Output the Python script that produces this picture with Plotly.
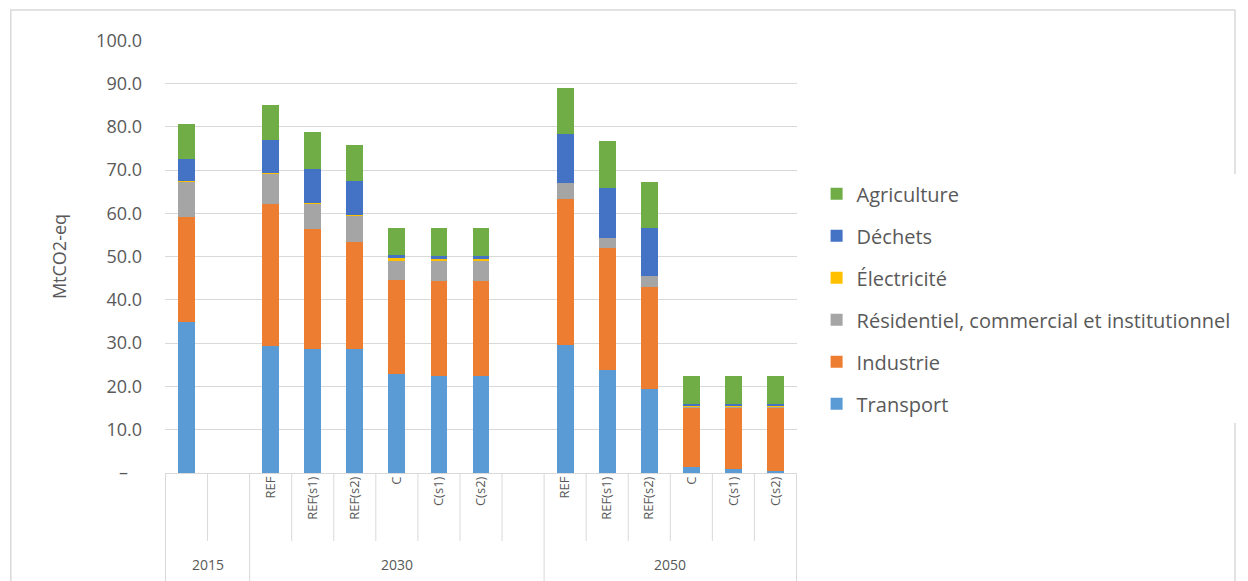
import plotly.graph_objects as go

# x-axis: year groups, and scenario labels per slot ("" = unlabelled / empty slot)
years = ["2015", "2030", "2050"]
group_sizes = [2, 7, 6]
scenarios = ["", "",
             "REF", "REF(s1)", "REF(s2)", "C", "C(s1)", "C(s2)", "",
             "REF", "REF(s1)", "REF(s2)", "C", "C(s1)", "C(s2)"]

# MtCO2-eq by sector
transport = [35.0, None, 29.3, 28.6, 28.7, 22.9, 22.4, 22.4, None, 29.6, 23.9, 19.3, 1.5, 0.9, 0.5]
industrie = [24.2, None, 32.8, 27.7, 24.7, 21.7, 22.0, 22.0, None, 33.6, 28.2, 23.7, 13.6, 14.2, 14.6]
residentiel = [8.1, None, 7.1, 6.0, 6.0, 4.6, 4.6, 4.6, None, 3.7, 2.2, 2.5, 0.2, 0.2, 0.2]
electricite = [0.2, None, 0.1, 0.2, 0.3, 0.4, 0.4, 0.4, None, 0.0, 0.0, 0.0, 0.1, 0.1, 0.1]
dechets = [5.1, None, 7.7, 7.7, 7.7, 0.8, 0.8, 0.8, None, 11.5, 11.5, 11.2, 0.6, 0.6, 0.6]
agriculture = [8.1, None, 8.1, 8.6, 8.4, 6.2, 6.3, 6.3, None, 10.6, 10.9, 10.6, 6.5, 6.5, 6.5]

y_ticks = [0, 10, 20, 30, 40, 50, 60, 70, 80, 90, 100]

series = [
    ("Transport", transport, "#5B9BD5"),
    ("Industrie", industrie, "#ED7D31"),
    ("Résidentiel, commercial et institutionnel", residentiel, "#A5A5A5"),
    ("Électricité", electricite, "#FFC000"),
    ("Déchets", dechets, "#4472C4"),
    ("Agriculture", agriculture, "#70AD47"),
]

FONT = "Open Sans"
GREY = "#595959"
LINE = "#d9d9d9"

# unique category keys for each slot
keys = []
for yr, n in zip(years, group_sizes):
    for i in range(n):
        keys.append(f"{yr}_{i}")

fig = go.Figure()
for i, (name, vals, col) in enumerate(series):
    fig.add_trace(go.Bar(
        x=keys, y=vals, name=name, marker_color=col, marker_line_width=0,
        legendgroup=str(i), legendrank=len(series) - i,
    ))

# category cell dividers and year labels
shapes = []
annotations = []
start = 0
for yr, n in zip(years, group_sizes):
    for j in range(n):
        pos = start + j - 0.5
        full = j == 0
        shapes.append(dict(type="line", xref="x", yref="paper", x0=pos, x1=pos,
                           y0=0, y1=-0.26 if full else -0.157,
                           line=dict(color=LINE, width=1)))
    annotations.append(dict(xref="x", yref="paper", x=start + (n - 1) / 2, y=-0.212,
                            text=yr, showarrow=False, yanchor="middle",
                            font=dict(family=FONT, size=14, color=GREY)))
    start += n
shapes.append(dict(type="line", xref="x", yref="paper", x0=start - 0.5, x1=start - 0.5,
                   y0=0, y1=-0.26, line=dict(color=LINE, width=1)))
# outer chart border
shapes.append(dict(type="rect", xref="paper", yref="paper", x0=-0.244, x1=1.693,
                   y0=-0.3, y1=1.069, line=dict(color="#d9d9d9", width=1.5), layer="below"))

# the page body adds 8px around the figure
fig.update_layout(
    barmode="stack",
    bargap=0.6,
    width=1240, height=573,
    margin=dict(l=157, r=440, t=32, b=108),
    paper_bgcolor="white", plot_bgcolor="white",
    font=dict(family=FONT, color=GREY),
    shapes=shapes,
    annotations=annotations,
    legend=dict(x=1.031, y=0.69, xanchor="left", yanchor="top",
                traceorder="grouped", tracegroupgap=13,
                font=dict(family=FONT, size=20, color=GREY)),
)
fig.update_xaxes(
    tickvals=keys, ticktext=scenarios, tickangle=-90,
    tickfont=dict(family=FONT, size=13, color=GREY),
    showgrid=False, showline=False, ticks="",
)
fig.update_yaxes(
    range=[0, 100.05], tickvals=y_ticks,
    ticktext=["–\u00a0\u00a0\u00a0"] + [f"{v:.1f}" for v in y_ticks[1:]],
    tickfont=dict(family=FONT, size=18, color=GREY),
    ticklabelstandoff=22,
    showgrid=True, gridcolor=LINE, gridwidth=1,
    zeroline=True, zerolinecolor=LINE, zerolinewidth=1,
    title=dict(text="MtCO2-eq", font=dict(family=FONT, size=18, color=GREY), standoff=24),
)

fig.write_html("out.html")
